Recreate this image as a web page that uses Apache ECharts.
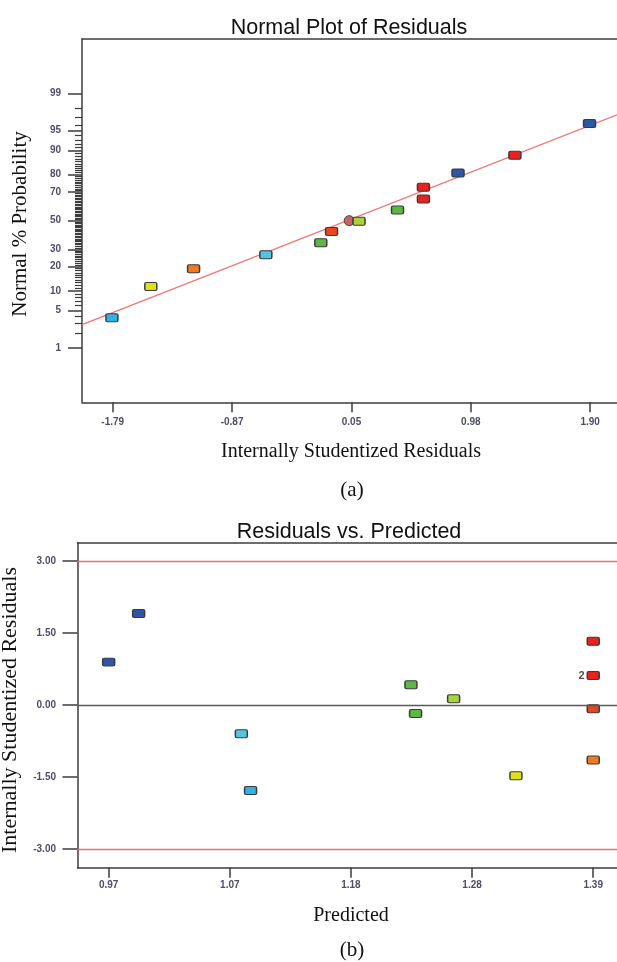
<!DOCTYPE html>
<html>
<head>
<meta charset="utf-8">
<script src="https://cdn.jsdelivr.net/npm/echarts@6/dist/echarts.min.js"></script>
<style>
  html, body { margin: 0; padding: 0; background: #fff; }
  #main { width: 617px; height: 962px; }
</style>
</head>
<body>
<div id="main"></div>
<script>
// ---- (a) Normal plot of residuals ----
// residuals in ascending order with their normal % probability
const normalResiduals   = [-1.796, -1.496, -1.166, -0.608, -0.184, -0.101, 0.111, 0.408, 0.608, 0.608, 0.875, 1.314, 1.890];
const normalProbability = [3.8, 11.4, 19.0, 26.7, 34.3, 42.2, 49.5, 57.7, 65.4, 72.9, 80.8, 88.4, 96.2];
const centerPoint = [0.035, 50];
// reference line end points (residual, %)
const fitResiduals   = [-2.027, 2.102];
const fitProbability = [2.87, 97.35];
// axis ticks
const probabilityTicks = [1, 5, 10, 20, 30, 50, 70, 80, 90, 95, 99];
const residualTickValues = [-1.79, -0.869, 0.053, 0.974, 1.895];
const residualTickLabels = ['-1.79', '-0.87', '0.05', '0.98', '1.90'];

// ---- (b) Residuals vs. predicted ----
const predicted     = [0.970, 0.996, 1.085, 1.093, 1.232, 1.236, 1.269, 1.323, 1.390, 1.390, 1.390, 1.390];
const residuals     = [0.896, 1.908, -0.598, -1.779, 0.423, -0.175, 0.131, -1.473, 1.333, 0.617, -0.077, -1.146];
const pointCounts   = [1, 1, 1, 1, 1, 1, 1, 1, 1, 2, 1, 1];
const limitLines    = [3, -3];
const zeroLine      = 0;
const predictedTickValues = [0.97, 1.075, 1.18, 1.285, 1.39];
const predictedTickLabels = ['0.97', '1.07', '1.18', '1.28', '1.39'];
const residualTicksB = [-3, -1.5, 0, 1.5, 3];

// marker colours (run colour scale)
const C = {
  blue: '#2e55a6', cyan: '#2fb2e4', lightCyan: '#55c3e3', green: '#5db843',
  yellowGreen: '#a8d23c', yellow: '#e0e01c', orange: '#f07a24',
  orangeRed: '#e8461f', red: '#e8221e'
};
const normalColors = [C.cyan, C.yellow, C.orange, C.lightCyan, C.green, C.orangeRed,
  C.yellowGreen, C.green, C.red, C.red, C.blue, C.red, C.blue];
const predictedColors = [C.blue, C.blue, C.lightCyan, C.cyan, C.green, C.green,
  C.yellowGreen, C.yellow, C.red, C.red, C.orangeRed, C.orange];

// slightly rounded rectangle marker
const markerPath = 'path://M1.5,0H10.5Q12,0 12,1.5V6.5Q12,8 10.5,8H1.5Q0,8 0,6.5V1.5Q0,0 1.5,0Z';

// inverse standard normal CDF (Acklam)
function probit(pPercent) {
  const p = pPercent / 100;
  const a = [-3.969683028665376e+01, 2.209460984245205e+02, -2.759285104469687e+02,
             1.383577518672690e+02, -3.066479806614716e+01, 2.506628277459239e+00];
  const b = [-5.447609879822406e+01, 1.615858368580409e+02, -1.556989798598866e+02,
             6.680131188771972e+01, -1.328068155288572e+01];
  const c = [-7.784894002430293e-03, -3.223964580411365e-01, -2.400758277161838e+00,
             -2.549732539343734e+00, 4.374664141464968e+00, 2.938163982698783e+00];
  const d = [7.784695709041462e-03, 3.224671290700398e-01, 2.445134137142996e+00,
             3.754408661907416e+00];
  const pl = 0.02425;
  let q, r;
  if (p < pl) {
    q = Math.sqrt(-2 * Math.log(p));
    return (((((c[0]*q+c[1])*q+c[2])*q+c[3])*q+c[4])*q+c[5]) /
           ((((d[0]*q+d[1])*q+d[2])*q+d[3])*q+1);
  }
  if (p > 1 - pl) {
    q = Math.sqrt(-2 * Math.log(1 - p));
    return -(((((c[0]*q+c[1])*q+c[2])*q+c[3])*q+c[4])*q+c[5]) /
            ((((d[0]*q+d[1])*q+d[2])*q+d[3])*q+1);
  }
  q = p - 0.5; r = q * q;
  return (((((a[0]*r+a[1])*r+a[2])*r+a[3])*r+a[4])*r+a[5])*q /
         (((((b[0]*r+b[1])*r+b[2])*r+b[3])*r+b[4])*r+1);
}

const probabilityMinorTicks = [];
for (let p = 2; p <= 98; p++) {
  if (probabilityTicks.indexOf(p) < 0) probabilityMinorTicks.push(p);
}
const zMajor = probabilityTicks.map(probit);
const zMinor = probabilityMinorTicks.map(probit);

function lookup(values, labels) {
  return function (v) {
    for (let i = 0; i < values.length; i++) {
      if (Math.abs(values[i] - v) < 1e-6) return labels[i];
    }
    return '';
  };
}

const axisColor = '#3c3c3c';
const tickLabelStyle = {
  color: '#4d4d68', fontSize: 10, fontWeight: 'bold', fontFamily: 'Liberation Sans, Arial, sans-serif'
};
const lineStyleAxis = { color: axisColor, width: 1.5 };

function borderAxis(gridIndex, min, max) {
  return {
    type: 'value', gridIndex, position: 'top', min, max,
    axisLine: { show: true, onZero: false, lineStyle: lineStyleAxis },
    axisTick: { show: false }, axisLabel: { show: false }, splitLine: { show: false }
  };
}

const chart = echarts.init(document.getElementById('main'), null, { renderer: 'canvas' });

const serif = 'Liberation Serif, Times New Roman, serif';
const sans = 'Liberation Sans, Arial, sans-serif';

chart.setOption({
  animation: false,
  backgroundColor: '#fff',
  grid: [
    { left: 82, top: 39, right: 0, height: 363.3 },
    { left: 77.5, top: 542.5, right: 0, height: 325.2 }
  ],
  xAxis: [
    {
      type: 'value', gridIndex: 0, position: 'bottom', min: -2.027, max: 2.102,
      axisLine: { onZero: false, lineStyle: lineStyleAxis },
      axisTick: { customValues: residualTickValues, length: 10, lineStyle: lineStyleAxis },
      axisLabel: Object.assign({ customValues: residualTickValues, margin: 15,
        formatter: lookup(residualTickValues, residualTickLabels) }, tickLabelStyle),
      splitLine: { show: false }
    },
    borderAxis(0, -2.027, 2.102),
    {
      type: 'value', gridIndex: 1, position: 'bottom', min: 0.943, max: 1.4106,
      axisLine: { onZero: false, lineStyle: lineStyleAxis },
      axisTick: { customValues: predictedTickValues, length: 10, lineStyle: lineStyleAxis },
      axisLabel: Object.assign({ customValues: predictedTickValues, margin: 13,
        formatter: lookup(predictedTickValues, predictedTickLabels) }, tickLabelStyle),
      splitLine: { show: false }
    },
    borderAxis(1, 0.943, 1.4106)
  ],
  yAxis: [
    {
      type: 'value', gridIndex: 0, position: 'left', min: -3.32, max: 3.32,
      axisLine: { onZero: false, lineStyle: lineStyleAxis },
      axisTick: { customValues: zMajor, length: 14, lineStyle: lineStyleAxis },
      axisLabel: Object.assign({ customValues: zMajor, margin: 21,
        formatter: lookup(zMajor, probabilityTicks.map(String)) }, tickLabelStyle),
      splitLine: { show: false }
    },
    {
      type: 'value', gridIndex: 0, position: 'left', min: -3.32, max: 3.32,
      axisLine: { show: false, onZero: false },
      axisTick: { customValues: zMinor, length: 7, lineStyle: { color: axisColor, width: 1.2 } },
      axisLabel: { show: false },
      splitLine: { show: false }
    },
    {
      type: 'value', gridIndex: 1, position: 'left', min: -3.39, max: 3.39,
      axisLine: { onZero: false, lineStyle: lineStyleAxis },
      axisTick: { customValues: residualTicksB, length: 15, lineStyle: lineStyleAxis },
      axisLabel: Object.assign({ customValues: residualTicksB, margin: 21.5,
        formatter: v => v.toFixed(2) }, tickLabelStyle),
      splitLine: { show: false }
    }
  ],
  series: [
    {
      type: 'line', xAxisIndex: 0, yAxisIndex: 0, z: 1,
      data: fitResiduals.map((r, i) => [r, probit(fitProbability[i])]),
      symbol: 'none', silent: true,
      lineStyle: { color: '#f27474', width: 1.3 }
    },
    {
      type: 'scatter', xAxisIndex: 0, yAxisIndex: 0, z: 2,
      data: [[centerPoint[0], probit(centerPoint[1])]],
      symbol: 'circle', symbolSize: 10,
      itemStyle: { color: '#c86464', borderColor: '#444', borderWidth: 1, opacity: 1 }
    },
    {
      type: 'scatter', xAxisIndex: 0, yAxisIndex: 0, z: 3,
      symbol: markerPath, symbolSize: [12, 8], symbolKeepAspect: false,
      data: normalResiduals.map((r, i) => ({
        value: [r, probit(normalProbability[i])],
        itemStyle: { color: normalColors[i] }
      })),
      itemStyle: { borderColor: '#3a3a3a', borderWidth: 1.2, opacity: 1 }
    },
    {
      type: 'scatter', xAxisIndex: 2, yAxisIndex: 2, z: 1, data: [],
      markLine: {
        silent: true, symbol: ['none', 'none'], animation: false,
        label: { show: false },
        data: [
          { yAxis: zeroLine, lineStyle: { color: '#5a5a5a', width: 1.3, type: 'solid' } },
          ...limitLines.map(v => ({ yAxis: v, lineStyle: { color: '#f06a6a', width: 1.3, type: 'solid' } }))
        ]
      }
    },
    {
      type: 'scatter', xAxisIndex: 2, yAxisIndex: 2, z: 3,
      symbol: markerPath, symbolSize: [12, 8], symbolKeepAspect: false,
      data: predicted.map((p, i) => ({
        value: [p, residuals[i]],
        itemStyle: { color: predictedColors[i] },
        label: {
          show: pointCounts[i] > 1, formatter: String(pointCounts[i]), position: 'left', distance: 2,
          color: '#505050', fontSize: 11, fontWeight: 'bold', fontFamily: sans
        }
      })),
      itemStyle: { borderColor: '#3a3a3a', borderWidth: 1.2, opacity: 1 }
    }
  ],
  graphic: [
    { type: 'text', x: 349, y: 28, style: { text: 'Normal Plot of Residuals', font: '21.5px ' + sans, fill: '#111', textAlign: 'center', textVerticalAlign: 'middle' } },
    { type: 'text', x: 351, y: 452, style: { text: 'Internally Studentized Residuals', font: '20px ' + serif, fill: '#111', textAlign: 'center', textVerticalAlign: 'middle' } },
    { type: 'text', x: 20, y: 224, rotation: Math.PI / 2, style: { text: 'Normal % Probability', font: '21px ' + serif, fill: '#111', textAlign: 'center', textVerticalAlign: 'middle' } },
    { type: 'text', x: 352, y: 490, style: { text: '(a)', font: '21px ' + serif, fill: '#111', textAlign: 'center', textVerticalAlign: 'middle' } },
    { type: 'text', x: 349, y: 532, style: { text: 'Residuals vs. Predicted', font: '21.5px ' + sans, fill: '#111', textAlign: 'center', textVerticalAlign: 'middle' } },
    { type: 'text', x: 351, y: 916, style: { text: 'Predicted', font: '20px ' + serif, fill: '#111', textAlign: 'center', textVerticalAlign: 'middle' } },
    { type: 'text', x: 10, y: 710, rotation: Math.PI / 2, style: { text: 'Internally Studentized Residuals', font: '22px ' + serif, fill: '#111', textAlign: 'center', textVerticalAlign: 'middle' } },
    { type: 'text', x: 352, y: 950, style: { text: '(b)', font: '21px ' + serif, fill: '#111', textAlign: 'center', textVerticalAlign: 'middle' } }
  ]
});
</script>
</body>
</html>
